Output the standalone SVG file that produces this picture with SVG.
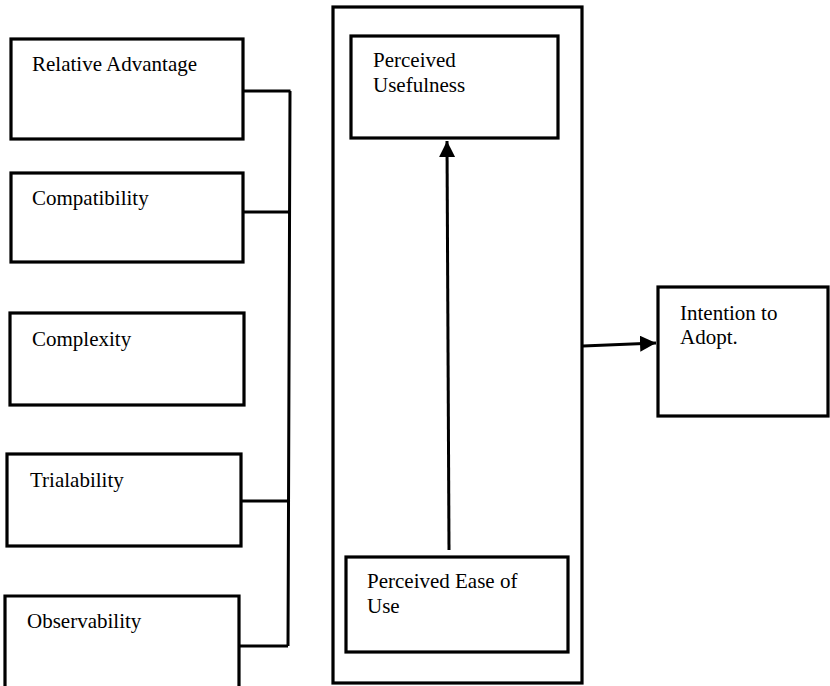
<svg xmlns="http://www.w3.org/2000/svg" width="830" height="686" viewBox="0 0 830 686">
<style>
.box{fill:#fff;stroke:#000;stroke-width:3.2}
.t{font-family:"Liberation Serif","Times New Roman",serif;font-size:21px;fill:#000}
.c{fill:none;stroke:#000;stroke-width:3}
</style>
<defs>
<marker id="ah" markerUnits="userSpaceOnUse" markerWidth="18" markerHeight="18" refX="16" refY="8" orient="auto">
<path d="M0,0 L16,8 L0,16 Z" fill="#000"/>
</marker>
</defs>
<rect width="830" height="686" fill="#fff"/>
<g id="outer"><rect class="box" x="333" y="7" width="249" height="676"/></g>
<g id="relative-advantage"><rect class="box" x="11" y="39" width="232" height="100"/><text class="t" x="32" y="71">Relative Advantage</text></g>
<g id="compatibility"><rect class="box" x="11" y="173" width="232" height="89"/><text class="t" x="32" y="205">Compatibility</text></g>
<g id="complexity"><rect class="box" x="10" y="313" width="234" height="92"/><text class="t" x="32" y="346">Complexity</text></g>
<g id="trialability"><rect class="box" x="7" y="454" width="234" height="92"/><text class="t" x="30" y="487">Trialability</text></g>
<g id="observability"><path class="box" d="M5,690 V596 H239 V690"/><text class="t" x="27" y="628">Observability</text></g>
<g id="perceived-usefulness"><rect class="box" x="351" y="36" width="207" height="102"/><text class="t" x="373" y="67">Perceived</text><text class="t" x="373" y="92">Usefulness</text></g>
<g id="perceived-ease"><rect class="box" x="346" y="557" width="222" height="95"/><text class="t" x="367" y="588">Perceived Ease of</text><text class="t" x="367" y="613">Use</text></g>
<g id="intention"><rect class="box" x="658" y="287" width="170" height="129"/><text class="t" x="680" y="320">Intention to</text><text class="t" x="680" y="344">Adopt.</text></g>
<g id="connectors">
<path class="c" d="M243,91 H290.5 M290,91 L288,646 M243,212 H289.5 M241,501 H288.5 M239,646 H288"/>
<line class="c" x1="449" y1="550" x2="447" y2="141" marker-end="url(#ah)"/>
<line class="c" x1="583" y1="346" x2="656" y2="343" marker-end="url(#ah)"/>
</g>
</svg>
